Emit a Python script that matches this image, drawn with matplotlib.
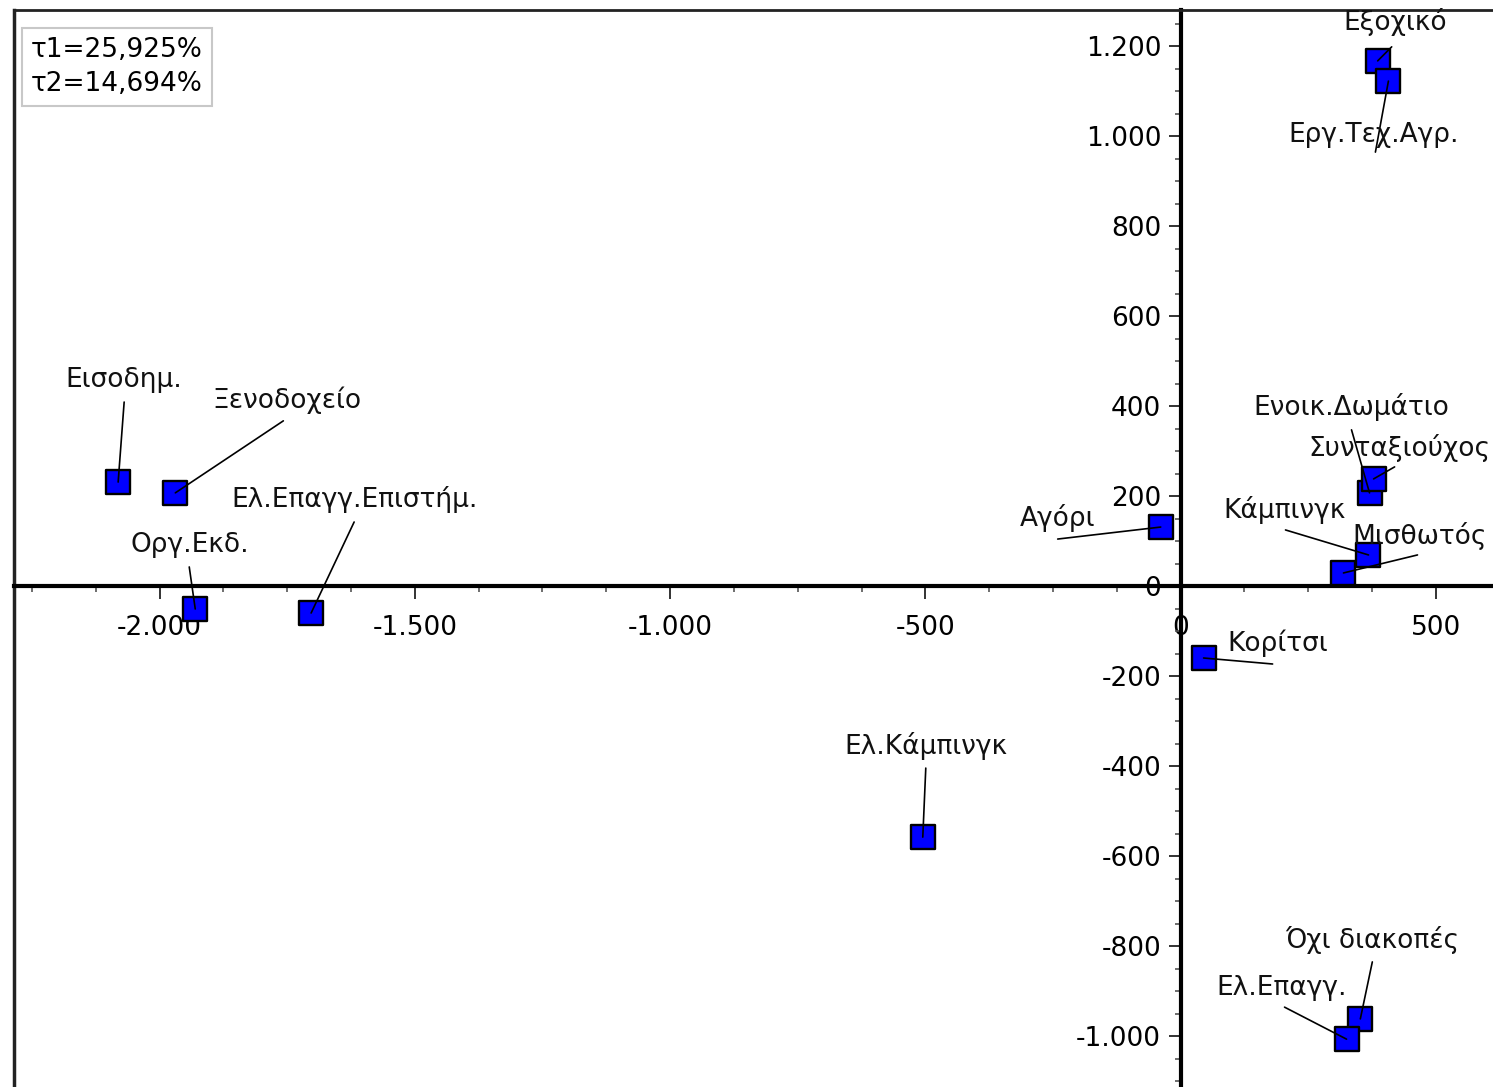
import numpy as np
import matplotlib
matplotlib.use("Agg")
import matplotlib.pyplot as plt
from matplotlib.ticker import MultipleLocator, FuncFormatter

# correspondence analysis map - category coordinates (dim1, dim2)
names = ["Εξοχικό", "Εργ.Τεχ.Αγρ.", "Ενοικ.Δωμάτιο", "Συνταξιούχος", "Αγόρι",
         "Κάμπινγκ", "Μισθωτός", "Κορίτσι", "Όχι διακοπές", "Ελ.Επαγγ.",
         "Ελ.Κάμπινγκ", "Εισοδημ.", "Ξενοδοχείο", "Ελ.Επαγγ.Επιστήμ.", "Οργ.Εκδ."]
dim1 = [386, 407, 370, 378, -39, 368, 319, 45, 352, 325, -505, -2081, -1969, -1703, -1930]
dim2 = [1167, 1122, 207, 238, 131, 69, 29, -160, -962, -1007, -558, 231, 207, -60, -51]
inertia = ["τ1=25,925%", "τ2=14,694%"]

# label / leader-line offsets in pixels (layout only)
label_off = [(18, 39), (-15, -54), (-18, 86), (26, 31), (-103, 9),
             (-84, 45), (76, 37), (74, 15), (12, 79), (-65, 51),
             (3, 91), (6, 102), (112, 93), (43, 114), (-5, 64)]
leader_off = [(14, 14), (-13, -71), (-18, 63), (21, 12), (-103, -12),
              (-83, 25), (74, 18), (69, -6), (12, 57), (-62, 32),
              (3, 69), (6, 80), (108, 72), (43, 91), (-6, 42)]

FS = 19
W, H = 1493, 1087
fig = plt.figure(figsize=(W / 100, H / 100), dpi=100)
ax = fig.add_axes([14 / W, -16.5 / H, 1524 / W, 1093.5 / H])
ax.set_xlim(-2285, 700)
ax.set_ylim(-1150, 1280)

# axes through the origin
ax.spines["left"].set_position(("data", 0))
ax.spines["bottom"].set_position(("data", 0))
for s in ["left", "bottom"]:
    ax.spines[s].set_linewidth(3)
    ax.spines[s].set_color("black")
ax.spines["right"].set_visible(False)
ax.spines["top"].set_linewidth(2)
ax.spines["top"].set_color("#222222")
ax.plot([0, 0], [0, 1], transform=ax.transAxes, color="#222222", lw=2.5, clip_on=False)

ax.xaxis.set_major_locator(MultipleLocator(500))
ax.xaxis.set_minor_locator(MultipleLocator(125))
ax.yaxis.set_major_locator(MultipleLocator(200))
ax.yaxis.set_minor_locator(MultipleLocator(50))
fmt = FuncFormatter(lambda v, p: f"{int(round(v)):,}".replace(",", "."))
ax.xaxis.set_major_formatter(fmt)
ax.yaxis.set_major_formatter(fmt)
ax.tick_params(which="major", direction="out", length=9, width=1.4, color="#333333",
               labelsize=FS, labelcolor="black")
ax.tick_params(which="minor", direction="out", length=4, width=1.2, color="#555555")
ax.tick_params(axis="x", which="major", pad=12)
ax.tick_params(axis="y", which="major", pad=5)

ax.scatter(dim1, dim2, marker="s", s=17.5 ** 2, c="#0000ff", edgecolors="black",
           linewidths=1.7, zorder=3)

for i, n in enumerate(names):
    ax.annotate("", xy=(dim1[i], dim2[i]), xytext=leader_off[i], textcoords="offset pixels",
                arrowprops=dict(arrowstyle="-", color="black", lw=1.2, shrinkA=0, shrinkB=0),
                zorder=4)
    ax.annotate(n, xy=(dim1[i], dim2[i]), xytext=label_off[i], textcoords="offset pixels",
                ha="center", va="center", fontsize=FS, color="#111111", zorder=5)

ax.annotate("\n".join(inertia), xy=(31, H - 67), xycoords="figure pixels",
            ha="left", va="center", fontsize=FS, linespacing=1.35,
            bbox=dict(boxstyle="square,pad=0.35", fc="white", ec="#c8c8c8", lw=1.5))

fig.savefig("out.png", dpi=100)
